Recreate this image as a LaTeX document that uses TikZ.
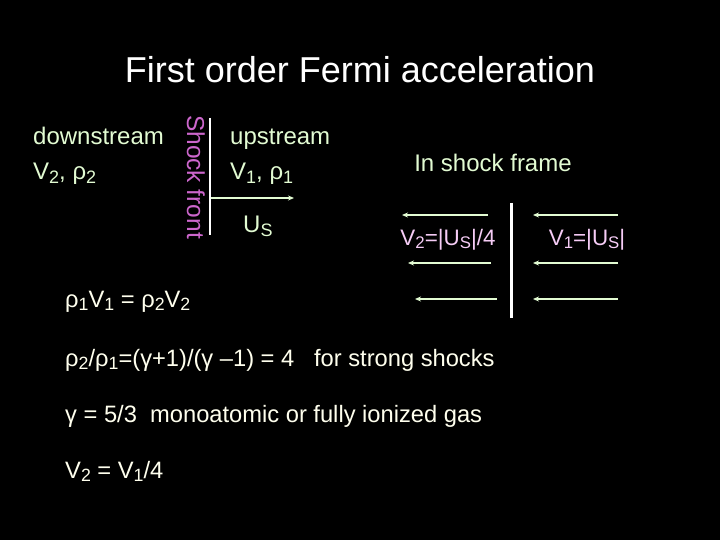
\documentclass[tikz,border=0pt]{standalone}
\usepackage{fontspec}
\setmainfont{Liberation Sans}
\usetikzlibrary{arrows.meta}
\definecolor{pgreen}{HTML}{E2FBD2}
\definecolor{ppink}{HTML}{F6CCF6}
\definecolor{pmag}{HTML}{CC66CC}
\definecolor{pwhite}{HTML}{FFFFEE}
\newcommand{\lowr}[1]{\raisebox{-0.3ex}{\scalebox{0.75}{#1}}}
\tikzset{
 lbl/.style={inner sep=0pt,anchor=base west,text=pgreen,font=\fontsize{24}{28}\selectfont},
 eq/.style={inner sep=0pt,anchor=base west,text=pwhite,font=\fontsize{23.7}{28}\selectfont},
 pk/.style={inner sep=0pt,anchor=base,text=ppink,font=\fontsize{22.4}{26}\selectfont},
 arr/.style={draw=pgreen,line width=1.3pt,-{Stealth[length=6pt,width=5pt]}},
 bar/.style={draw=white,line width=3pt}
}
\begin{document}
\begin{tikzpicture}[x=1pt,y=-1pt]
\fill[black] (0,0) rectangle (720,540);
\useasboundingbox (0,0) rectangle (720,540);
\node[inner sep=0pt,text=white,font=\fontsize{36}{42}\selectfont] (title) at (360,70) {First order Fermi acceleration};
\node[lbl] (down) at (33,145) {downstream};
\node[lbl] (v2) at (33,180) {V\lowr{2}, ρ\lowr{2}};
\node[inner sep=0pt,text=pmag,rotate=-90,font=\fontsize{24.5}{28}\selectfont] (sf) at (196,177) {Shock front};
\draw[bar,line width=2.5pt] (210,118) coordinate (s1) -- (210,235) coordinate (s2);
\node[lbl] (up) at (230,145) {upstream};
\node[lbl] (v1) at (230,180) {V\lowr{1}, ρ\lowr{1}};
\coordinate (us0) at (211,198);
\coordinate (us1) at (294,198);
\draw[arr] (us0) -- (us1);
\node[lbl] (us) at (243,233) {U\lowr{S}};
\node[inner sep=0pt,text=pgreen,font=\fontsize{24}{28}\selectfont] (frame) at (493,163) {In shock frame};
\draw[bar] (511,203) coordinate (b1) -- (511,318) coordinate (b2);
\foreach \yy/\aa/\bb in {215/488/402, 263/491/408, 299/497/415}{
  \coordinate (la) at (\aa,\yy); \coordinate (lb) at (\bb,\yy);
  \draw[arr] (la) -- (lb);
  \coordinate (ra) at (618,\yy); \coordinate (rb) at (533,\yy);
  \draw[arr] (ra) -- (rb);
}
\node[pk] (vv2) at (448,245) {V\lowr{2}=|U\lowr{S}|/4};
\node[pk] (vv1) at (587,245) {V\lowr{1}=|U\lowr{S}|};
\node[eq] (e1) at (65,307) {ρ\lowr{1}V\lowr{1} = ρ\lowr{2}V\lowr{2}};
\node[eq] (e2) at (65,366) {ρ\lowr{2}/ρ\lowr{1}=(γ+1)/(γ –1) = 4\ \ \ for strong shocks};
\node[eq] (e3) at (65,422) {γ = 5/3\ \ monoatomic or fully ionized gas};
\node[eq] (e4) at (65,478) {V\lowr{2} = V\lowr{1}/4};
\end{tikzpicture}
\end{document}
